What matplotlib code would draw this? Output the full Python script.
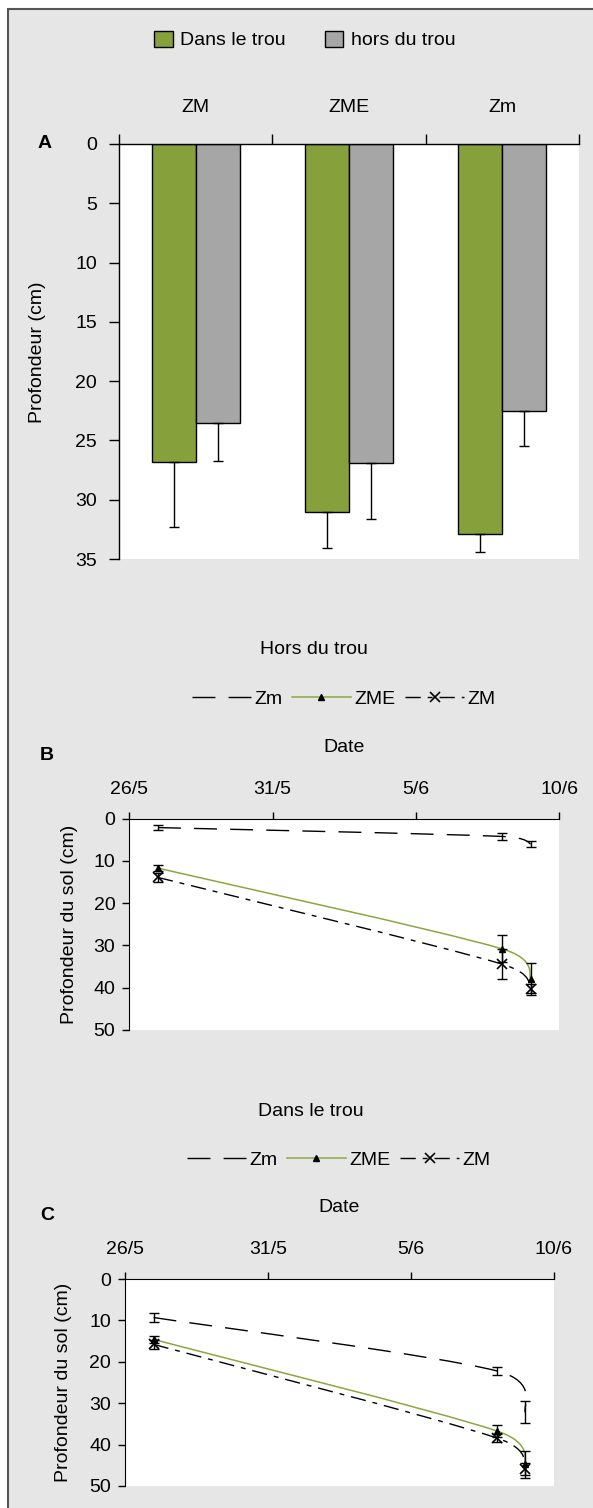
import numpy as np
import matplotlib
matplotlib.use("Agg")
import matplotlib.pyplot as plt
from matplotlib.path import Path
from matplotlib.patches import PathPatch, Rectangle
from matplotlib.lines import Line2D

plt.rcParams['font.family'] = ['Liberation Sans', 'DejaVu Sans']
plt.rcParams['font.size'] = 14

# Panel A: rooting depth (cm) per zone, in / out of the hole
zones = ['ZM', 'ZME', 'Zm']
dans = [26.8, 31.0, 32.9]
dans_err = [5.5, 3.1, 1.5]
hors = [23.5, 26.9, 22.5]
hors_err = [3.2, 4.7, 3.0]

# Panels B and C: root front depth over time
dates = ['27/5', '8/6', '9/6']
date_ticks = ['26/5', '31/5', '5/6', '10/6']

hors_Zm = [2.1, 4.2, 6.0]
hors_Zm_err = [0.6, 0.8, 0.7]
hors_ZME = [11.7, 30.8, 37.9]
hors_ZME_err = [0.7, 3.2, 3.8]
hors_ZM = [13.9, 34.4, 40.2]
hors_ZM_err = [1.1, 3.6, 1.1]

dans_Zm = [9.3, 22.2, 32.2]
dans_Zm_err = [1.2, 1.0, 2.7]
dans_ZME = [14.6, 36.7, 44.8]
dans_ZME_err = [0.9, 1.5, 3.3]
dans_ZM = [15.8, 38.4, 45.9]
dans_ZM_err = [1.0, 0.9, 1.5]

GREEN = '#86a03c'
GREY = '#a6a6a6'
LINE_GREEN = '#8aa83f'
W, H = 593, 1508


def to_day(s, ref='26/5'):
    d, m = map(int, s.split('/'))
    rd, rm = map(int, ref.split('/'))
    a = np.datetime64(f'2000-{m:02d}-{d:02d}')
    b = np.datetime64(f'2000-{rm:02d}-{rd:02d}')
    return int((a - b) / np.timedelta64(1, 'D'))


def fx(px):
    return px / W


def fy(py):
    return 1 - py / H


def smooth_line(ax, x, y, **kw):
    # Excel-like smoothed line: cubic Bezier through the points
    pts = ax.transData.transform(np.column_stack([x, y]))
    n = len(pts)
    verts = [pts[0]]
    codes = [Path.MOVETO]
    for i in range(n - 1):
        p0 = pts[max(i - 1, 0)]
        p1 = pts[i]
        p2 = pts[i + 1]
        p3 = pts[min(i + 2, n - 1)]
        d1 = (p2 - p0) / 6
        d2 = (p3 - p1) / 6
        seg = np.hypot(*(p2 - p1))
        s = np.hypot(*d1) + np.hypot(*d2)
        if s > seg:
            d1 = d1 * seg / s
            d2 = d2 * seg / s
        verts += [p1 + d1, p2 - d2, p2]
        codes += [Path.CURVE4] * 3
    verts = ax.transData.inverted().transform(np.array(verts))
    ax.add_patch(PathPatch(Path(verts, codes), fill=False, **kw))


fig = plt.figure(figsize=(W / 100, H / 100), dpi=100)
fig.patch.set_facecolor('white')
fig.add_artist(Rectangle((fx(8), -0.01), 1.1, fy(9) + 0.01, transform=fig.transFigure,
                         facecolor='#e6e6e6', edgecolor='#555555', lw=1.5, zorder=-5))

# ---------------- Panel A ----------------
axA = fig.add_axes([fx(119), fy(559), 460 / W, 415 / H])
x = np.arange(len(zones))
w = 0.287
b1 = axA.bar(x - w / 2, dans, w, color=GREEN, edgecolor='black', lw=1)
b2 = axA.bar(x + w / 2, hors, w, color=GREY, edgecolor='black', lw=1)
axA.errorbar(x - w / 2, dans, yerr=[np.zeros(3), dans_err], fmt='none', ecolor='black',
             elinewidth=1, capsize=3.6, capthick=1)
axA.errorbar(x + w / 2, hors, yerr=[np.zeros(3), hors_err], fmt='none', ecolor='black',
             elinewidth=1, capsize=3.6, capthick=1)
axA.set_xlim(-0.5, 2.5)
axA.set_ylim(35, 0)
axA.set_yticks(np.arange(0, 36, 5))
axA.xaxis.tick_top()
axA.set_xticks(x)
axA.set_xticklabels(zones)
axA.set_xticks([-0.5, 0.5, 1.5, 2.5], minor=True)
axA.tick_params(axis='x', which='major', length=0, pad=20)
axA.tick_params(axis='x', which='minor', length=7.2, direction='out', width=1)
axA.tick_params(axis='y', length=7.2, pad=8.6, width=1)
for s in ['bottom', 'right']:
    axA.spines[s].set_visible(False)
for s in ['top', 'left']:
    axA.spines[s].set_linewidth(1)
fig.text(fx(45), fy(143), 'A', weight='bold', ha='center', va='center')
fig.text(fx(38), fy(352), 'Profondeur (cm)', rotation=90, ha='center', va='center')
fig.legend([b1, b2], ['Dans le trou', 'hors du trou'], loc='center',
           bbox_to_anchor=(fx(305), fy(40)), ncol=2, frameon=False,
           handlelength=0.95, handleheight=0.9, handletextpad=0.4, columnspacing=2.0)

# ---------------- Panels B and C ----------------
days = np.array([to_day(d) for d in dates])
tick_days = [to_day(d) for d in date_ticks]

ZM_LS = (0, (11, 5, 3.5, 5))
Zm_LS = (0, (16.5, 9.5))


def time_panel(rect, title, tpos, lpos, dpos, letter, lbl, ylx, series):
    ax = fig.add_axes(rect)
    ax.set_xlim(tick_days[0], tick_days[-1])
    ax.set_ylim(50, 0)
    ax.set_yticks(np.arange(0, 51, 10))
    ax.xaxis.tick_top()
    ax.set_xticks(tick_days)
    ax.set_xticklabels(date_ticks)
    ax.tick_params(axis='x', length=5, pad=10, width=1)
    ax.tick_params(axis='y', length=5, pad=5, width=1)
    for s in ['bottom', 'right']:
        ax.spines[s].set_visible(False)
    zm, zm_e, zme, zme_e, zM, zM_e = series
    # Zm
    smooth_line(ax, days, zm, edgecolor='black', lw=1, linestyle=Zm_LS)
    ax.errorbar(days, zm, yerr=zm_e, fmt='none', ecolor='black', elinewidth=1,
                capsize=3.6, capthick=1)
    # ZM
    smooth_line(ax, days, zM, edgecolor='black', lw=1, linestyle=ZM_LS)
    ax.errorbar(days, zM, yerr=zM_e, fmt='none', ecolor='black', elinewidth=1,
                capsize=3.6, capthick=1)
    ax.plot(days, zM, ls='none', marker='x', ms=7, mew=1.2, color='black')
    # ZME
    smooth_line(ax, days, zme, edgecolor=LINE_GREEN, lw=1.1)
    ax.errorbar(days, zme, yerr=zme_e, fmt='none', ecolor='black', elinewidth=1,
                capsize=3.6, capthick=1)
    ax.plot(days, zme, ls='none', marker='^', ms=5, color='black')

    fig.text(fx(tpos[0]), fy(tpos[1]), title, ha='center', va='center')
    fig.text(fx(dpos[0]), fy(dpos[1]), 'Date', ha='center', va='center')
    fig.text(fx(letter[0]), fy(letter[1]), letter[2], weight='bold', ha='center', va='center')
    fig.text(fx(ylx[0]), fy(ylx[1]), lbl, rotation=90, ha='center', va='center')
    handles = [Line2D([], [], color='black', lw=1, ls=Zm_LS),
               Line2D([], [], color=LINE_GREEN, lw=1.1, marker='^', ms=5,
                      mfc='black', mec='black'),
               Line2D([], [], color='black', lw=1, ls=ZM_LS, marker='x', ms=7, mew=1.2)]
    fig.legend(handles, ['Zm', 'ZME', 'ZM'], loc='center',
               bbox_to_anchor=(fx(lpos[0]), fy(lpos[1])), ncol=3, frameon=False,
               handlelength=3, handletextpad=0.2, columnspacing=0.5)
    return ax


axB = time_panel([fx(129.3), fy(1030), 430 / W, 211.3 / H], 'Hors du trou',
                 (314, 650), (344, 699), (344, 748), (47, 756, 'B'),
                 'Profondeur du sol (cm)', (70, 924),
                 (hors_Zm, hors_Zm_err, hors_ZME, hors_ZME_err, hors_ZM, hors_ZM_err))

axC = time_panel([fx(125), fy(1486), 429 / W, 207 / H], 'Dans le trou',
                 (311, 1111), (339, 1160), (339, 1208), (47, 1215, 'C'),
                 'Profondeur du sol (cm)', (64, 1382),
                 (dans_Zm, dans_Zm_err, dans_ZME, dans_ZME_err, dans_ZM, dans_ZM_err))

fig.savefig('out.png', dpi=100)
